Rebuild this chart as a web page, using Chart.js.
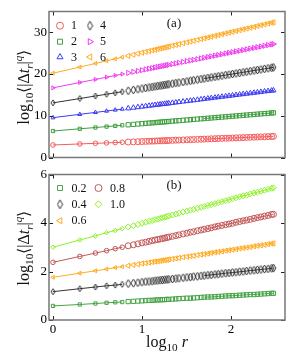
<!DOCTYPE html>
<html>
<head>
<meta charset="utf-8">
<script src="https://cdn.jsdelivr.net/npm/chart.js@4/dist/chart.umd.min.js"></script>
<style>
body{margin:0;background:#fff;}
#wrap{position:relative;width:297px;height:363px;overflow:hidden;}
canvas{position:absolute;left:0;top:0;}
.lab{position:absolute;font-family:'Liberation Serif',serif;font-size:16px;color:#111;white-space:nowrap;transform:translate(-50%,-50%);}
.rot{transform:translate(-50%,-50%) rotate(-90deg);}
.lab sub,.lab sup{font-size:70%;line-height:0;}
.pan{font-size:13px;}
</style>
</head>
<body>
<div id="wrap">
  <canvas id="ca" width="297" height="363"></canvas>
  <canvas id="cb" width="297" height="363"></canvas>
  <div class="lab rot" style="left:23px;top:87px;">log<sub>10</sub>⟨|Δ<i>t<sub>r</sub></i>|<sup><i>q</i></sup>⟩</div>
  <div class="lab rot" style="left:23px;top:248px;">log<sub>10</sub>⟨|Δ<i>t<sub>r</sub></i>|<sup><i>q</i></sup>⟩</div>
  <div class="lab" style="left:167px;top:342px;">log<sub>10</sub> <i>r</i></div>
  <div class="lab pan" style="left:174px;top:23px;">(a)</div>
  <div class="lab pan" style="left:174px;top:185px;">(b)</div>
</div>
<script>
// log10 r, r = 1..20 then roughly log-spaced up to 300
var logR = [0, 0.301, 0.477, 0.602, 0.699, 0.778, 0.845, 0.903, 0.954, 1.000,
  1.041, 1.079, 1.114, 1.146, 1.176, 1.204, 1.230, 1.255, 1.279, 1.301,
  1.342, 1.380, 1.415, 1.462, 1.505, 1.544, 1.580, 1.623, 1.663, 1.699,
  1.740, 1.778, 1.820, 1.857, 1.898, 1.940, 1.978, 2.017, 2.057, 2.097,
  2.137, 2.176, 2.217, 2.258, 2.297, 2.336, 2.377, 2.417, 2.456, 2.477];

// panel (a): q = 1..6
var q1 = [3.00,3.25,3.40,3.50,3.58,3.65,3.70,3.75,3.79,3.83,3.86,3.90,3.92,3.95,3.98,4.00,4.02,4.04,4.06,4.08,
  4.11,4.15,4.17,4.21,4.25,4.28,4.31,4.35,4.38,4.41,4.44,4.48,4.51,4.54,4.58,4.61,4.64,4.67,4.71,4.74,
  4.77,4.81,4.84,4.87,4.91,4.94,4.97,5.01,5.04,5.06];
var q2 = [6.35,6.88,7.19,7.41,7.58,7.72,7.84,7.94,8.03,8.11,8.18,8.25,8.31,8.37,8.42,8.47,8.51,8.56,8.60,8.64,
  8.71,8.78,8.84,8.92,9.00,9.07,9.13,9.21,9.28,9.34,9.41,9.48,9.55,9.62,9.69,9.76,9.83,9.90,9.97,10.04,
  10.11,10.18,10.25,10.32,10.39,10.46,10.53,10.60,10.67,10.71];
var q3 = [9.55,10.35,10.81,11.14,11.40,11.60,11.78,11.93,12.07,12.19,12.30,12.40,12.49,12.58,12.65,12.73,12.80,12.86,12.93,12.98,
  13.09,13.19,13.29,13.41,13.52,13.63,13.72,13.83,13.94,14.04,14.14,14.24,14.36,14.45,14.56,14.67,14.77,14.87,14.98,15.09,
  15.19,15.29,15.40,15.51,15.61,15.72,15.83,15.93,16.03,16.09];
var q4 = [13.10,14.13,14.74,15.17,15.50,15.77,16.00,16.20,16.37,16.53,16.67,16.80,16.92,17.03,17.13,17.23,17.32,17.40,17.49,17.56,
  17.70,17.83,17.95,18.11,18.26,18.40,18.52,18.67,18.80,18.93,19.07,19.20,19.34,19.47,19.61,19.75,19.88,20.02,20.16,20.29,
  20.43,20.56,20.70,20.85,20.98,21.11,21.25,21.39,21.52,21.60];
var q5 = [16.70,17.98,18.72,19.25,19.66,20.00,20.28,20.53,20.74,20.94,21.11,21.28,21.42,21.56,21.69,21.80,21.92,22.02,22.12,22.22,
  22.39,22.55,22.70,22.90,23.08,23.25,23.40,23.58,23.75,23.90,24.08,24.24,24.42,24.57,24.75,24.93,25.09,25.25,25.42,25.59,
  25.76,25.93,26.10,26.27,26.44,26.60,26.78,26.95,27.11,27.20];
var q6 = [20.20,21.68,22.55,23.17,23.65,24.04,24.37,24.65,24.90,25.13,25.33,25.52,25.69,25.85,26.00,26.14,26.26,26.39,26.51,26.61,
  26.82,27.00,27.18,27.41,27.62,27.81,27.99,28.20,28.40,28.58,28.78,28.97,29.17,29.36,29.56,29.76,29.95,30.14,30.34,30.54,
  30.74,30.93,31.13,31.33,31.52,31.72,31.92,32.12,32.31,32.41];

// panel (b): q = 0.2 .. 1.0
var p02 = [0.58,0.64,0.68,0.71,0.73,0.74,0.76,0.77,0.78,0.79,0.80,0.81,0.81,0.82,0.83,0.83,0.84,0.84,0.85,0.85,
  0.86,0.87,0.88,0.89,0.90,0.90,0.91,0.92,0.93,0.94,0.95,0.95,0.96,0.97,0.98,0.99,1.00,1.00,1.01,1.02,
  1.03,1.04,1.05,1.05,1.06,1.07,1.08,1.09,1.10,1.10];
var p04 = [1.17,1.29,1.36,1.41,1.44,1.47,1.50,1.52,1.54,1.56,1.58,1.59,1.60,1.62,1.63,1.64,1.65,1.66,1.67,1.68,
  1.69,1.71,1.72,1.74,1.76,1.77,1.79,1.80,1.82,1.83,1.85,1.86,1.88,1.89,1.91,1.93,1.94,1.96,1.97,1.99,
  2.00,2.02,2.04,2.05,2.07,2.08,2.10,2.11,2.13,2.14];
var p06 = [1.76,1.93,2.03,2.10,2.16,2.20,2.24,2.27,2.30,2.33,2.35,2.37,2.39,2.41,2.42,2.44,2.46,2.47,2.48,2.50,
  2.52,2.54,2.56,2.59,2.61,2.63,2.65,2.68,2.70,2.72,2.74,2.77,2.79,2.81,2.83,2.86,2.88,2.90,2.92,2.95,
  2.97,2.99,3.01,3.04,3.06,3.08,3.10,3.13,3.15,3.16];
var p08 = [2.38,2.62,2.76,2.86,2.94,3.00,3.06,3.10,3.14,3.18,3.21,3.24,3.27,3.30,3.32,3.34,3.36,3.38,3.40,3.42,
  3.45,3.48,3.51,3.55,3.58,3.62,3.64,3.68,3.71,3.74,3.77,3.80,3.84,3.87,3.90,3.93,3.96,3.99,4.03,4.06,
  4.09,4.12,4.15,4.19,4.22,4.25,4.28,4.31,4.35,4.36];
var p10 = [3.00,3.30,3.47,3.60,3.69,3.77,3.84,3.89,3.94,3.99,4.03,4.07,4.10,4.14,4.16,4.19,4.22,4.24,4.27,4.29,
  4.33,4.37,4.40,4.45,4.49,4.53,4.56,4.61,4.65,4.68,4.72,4.76,4.80,4.84,4.88,4.92,4.96,5.00,5.04,5.08,
  5.12,5.15,5.20,5.24,5.27,5.31,5.35,5.39,5.43,5.45];

var xTicks = [0, 1, 2];

function thinDiamond(color, w, h) {
  var c = document.createElement('canvas');
  c.width = w + 2; c.height = h + 2;
  var g = c.getContext('2d');
  g.strokeStyle = color; g.lineWidth = 1;
  g.beginPath();
  g.moveTo(c.width / 2, 1); g.lineTo(w + 1, c.height / 2);
  g.lineTo(c.width / 2, h + 1); g.lineTo(1, c.height / 2);
  g.closePath(); g.stroke();
  return c;
}

function series(label, ys, color, style, rot) {
  var small = style === 'thin' ? thinDiamond(color, 4, 6) : null;
  var big = style === 'thin' ? thinDiamond(color, 5, 8) : null;
  return {
    label: label,
    data: logR.map(function (x, i) { return {x: x, y: ys[i]}; }),
    borderColor: color,
    backgroundColor: 'transparent',
    borderWidth: 1,
    pointBorderWidth: 1,
    pointBackgroundColor: 'transparent',
    pointBorderColor: color,
    pointStyle: style === 'thin' ? function (ctx) { return ctx.parsed && ctx.parsed.x < 0.8 ? small : big; } : style,
    pointRotation: rot || 0,
    pointRadius: function (ctx) { return ctx.parsed && ctx.parsed.x < 0.8 ? 2.3 : 3; },
    showLine: true,
    segment: {
      borderColor: function (ctx) {
        return (ctx.p0.parsed.x >= 0.77 && ctx.p1.parsed.x <= 1.70) ? 'transparent' : color;
      }
    },
    legendStyle: style === 'thin' ? thinDiamond(color, 5, 9) : style,
    legendRot: rot || 0
  };
}

var framePlugin = {
  id: 'frame',
  afterDraw: function (chart) {
    var ctx = chart.ctx, a = chart.chartArea;
    var xs = chart.scales.x, ys = chart.scales.y;
    ctx.save();
    ctx.strokeStyle = '#222';
    ctx.lineWidth = 1;
    xs.ticks.forEach(function (t) {
      var px = Math.round(xs.getPixelForValue(t.value)) + 0.5;
      ctx.beginPath();
      ctx.moveTo(px, a.bottom); ctx.lineTo(px, a.bottom - 4);
      ctx.moveTo(px, a.top); ctx.lineTo(px, a.top + 4);
      ctx.stroke();
    });
    ys.ticks.forEach(function (t) {
      var py = Math.round(ys.getPixelForValue(t.value)) + 0.5;
      ctx.beginPath();
      ctx.moveTo(a.left, py); ctx.lineTo(a.left + 4, py);
      ctx.moveTo(a.right, py); ctx.lineTo(a.right - 4, py);
      ctx.stroke();
    });
    ctx.strokeStyle = '#777';
    ctx.lineWidth = 1.5;
    ctx.strokeRect(a.left, a.top, a.right - a.left, a.bottom - a.top);

    var leg = chart.options.plugins.panelLegend;
    ctx.font = '12px "Liberation Serif", serif';
    ctx.textBaseline = 'middle';
    ctx.textAlign = 'left';
    leg.items.forEach(function (it) {
      var ds = chart.data.datasets[it.ds];
      var sx = leg.symX[it.col], ty = leg.rowY[it.row];
      ctx.strokeStyle = ds.borderColor;
      ctx.fillStyle = 'rgba(0,0,0,0)';
      ctx.lineWidth = 1;
      Chart.helpers.drawPoint(ctx, {pointStyle: ds.legendStyle, radius: 3.5, rotation: ds.legendRot, borderWidth: 1}, sx, ty);
      ctx.fillStyle = '#111';
      ctx.fillText(ds.label, leg.textX[it.col], ty + 0.5);
    });
    ctx.restore();
  }
};

Chart.defaults.font.family = '"Liberation Serif", serif';
Chart.defaults.font.size = 12;
Chart.defaults.color = '#000';

function scales(yMin, yMax, yStep, xHeight, showX) {
  return {
    x: {
      type: 'linear', min: -0.045, max: 2.607,
      afterBuildTicks: function (s) { s.ticks = xTicks.map(function (v) { return {value: v}; }); },
      ticks: {display: showX, padding: 2, font: {size: 13}},
      grid: {display: false, drawTicks: false}, border: {display: false},
      afterFit: function (s) { s.height = xHeight; }
    },
    y: {
      type: 'linear', min: yMin, max: yMax,
      ticks: {stepSize: yStep, includeBounds: false, autoSkip: false, padding: 2, font: {size: 13}},
      grid: {display: false, drawTicks: false}, border: {display: false},
      afterFit: function (s) { s.width = 49; }
    }
  };
}

function makeChart(id, datasets, sc, padTop, legend) {
  return new Chart(document.getElementById(id), {
    type: 'scatter',
    data: {datasets: datasets},
    options: {
      responsive: false,
      animation: false,
      layout: {padding: {top: padTop, right: 12, left: 0, bottom: 0}},
      scales: sc,
      plugins: {legend: {display: false}, tooltip: {enabled: false}, panelLegend: legend}
    },
    plugins: [framePlugin]
  });
}

makeChart('ca', [
  series('1', q1, '#f25c5c', 'circle'),
  series('2', q2, '#3f9f3f', 'rect'),
  series('3', q3, '#3c3cf0', 'triangle'),
  series('4', q4, '#333333', 'thin'),
  series('5', q5, '#f03cf0', 'triangle', 90),
  series('6', q6, '#ffab26', 'triangle', -90)
], scales(0, 35, 10, 205.5, false), 11.5, {
  symX: [60, 90], textX: [71, 100], rowY: [25.7, 41.7, 57],
  items: [{ds: 0, col: 0, row: 0}, {ds: 1, col: 0, row: 1}, {ds: 2, col: 0, row: 2},
          {ds: 3, col: 1, row: 0}, {ds: 4, col: 1, row: 1}, {ds: 5, col: 1, row: 2}]
});

makeChart('cb', [
  series('0.2', p02, '#46a346', 'rect'),
  series('0.4', p04, '#333333', 'thin'),
  series('0.6', p06, '#ffaa22', 'triangle', -90),
  series('0.8', p08, '#c25656', 'circle'),
  series('1.0', p10, '#8ef02a', 'rectRot')
], scales(0, 6, 2, 43, true), 174.5, {
  symX: [60, 98.5], textX: [71.5, 110], rowY: [188, 204.3, 220.7],
  items: [{ds: 0, col: 0, row: 0}, {ds: 1, col: 0, row: 1}, {ds: 2, col: 0, row: 2},
          {ds: 3, col: 1, row: 0}, {ds: 4, col: 1, row: 1}]
});
</script>
</body>
</html>
